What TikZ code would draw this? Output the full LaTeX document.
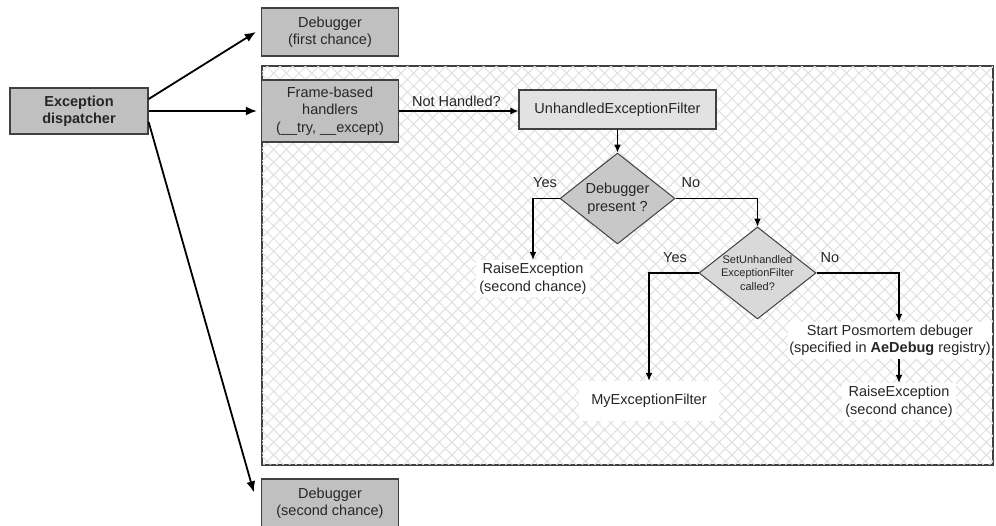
\documentclass[tikz,border=0pt]{standalone}
\usepackage{fontspec}
\setmainfont{Liberation Sans}
\usetikzlibrary{shapes.geometric,arrows.meta,patterns.meta}
\definecolor{boxgray}{HTML}{C0C0C0}
\definecolor{uefgray}{HTML}{E2E2E2}
\definecolor{diaone}{HTML}{C8C8C8}
\definecolor{diatwo}{HTML}{D9D9D9}
\definecolor{bordergray}{HTML}{404040}
\definecolor{hatchgray}{HTML}{E0E0E0}
\begin{document}
\begin{tikzpicture}[x=1pt,y=-1pt,
  every node/.style={font=\fontsize{14.5}{17.5}\selectfont, align=center, text=black!85},
  box/.style={draw=bordergray, line width=1.3pt, fill=boxgray, minimum width=137pt, inner sep=0pt},
  dia/.style={diamond, draw=bordergray, line width=1pt, inner sep=0pt},
  lbl/.style={fill=white, inner sep=3pt},
  bigarrow/.style={line width=1.8pt, -{Latex[length=11pt,width=9pt]}},
  arr/.style={line width=1.2pt, -{Latex[length=8pt,width=7pt]}},
  small/.style={font=\fontsize{11}{13.5}\selectfont}
]
\useasboundingbox (0,0) rectangle (996,525);
\clip (0,0) rectangle (996,525);

% hatched region
\node[draw=bordergray, line width=1.3pt, fill=white, minimum width=731pt, minimum height=399pt, inner sep=0pt] (region) at (627.5,265.5) {};
\fill[pattern={Hatch[angle=45,distance=9pt,line width=1pt]}, pattern color=hatchgray]
  ([xshift=0.7pt,yshift=-0.7pt]region.north west) rectangle ([xshift=-0.7pt,yshift=0.7pt]region.south east);

% boxes
\node[box, minimum width=138pt, minimum height=46pt, font=\bfseries\fontsize{14.5}{17.5}\selectfont] (disp) at (79,111) {Exception\\dispatcher};
\node[box, minimum height=48pt] (dbg1) at (330,32) {Debugger\\(first chance)};
\node[box, minimum height=62pt] (frame) at (330,111) {Frame-based\\handlers\\(\_\_try, \_\_except)};
\node[box, minimum height=48pt] (dbg2) at (330,503) {Debugger\\(second chance)};
\node[box, fill=uefgray, minimum width=197pt, minimum height=39pt] (uef) at (617.5,109.5) {UnhandledExceptionFilter};

% diamonds
\node[dia, fill=diaone, minimum width=115pt, minimum height=91pt] (d1) at (617.5,198.5) {};
\node (d1t) at (d1) {Debugger\\present ?};
\node[dia, fill=diatwo, minimum width=117pt, minimum height=92pt] (d2) at (757.5,273) {};
\node[small] (d2t) at (d2) {SetUnhandled\\ExceptionFilter\\called?};

% results
\node[lbl] (rx1) at (533,278.5) {RaiseException\\(second chance)};
\node[fill=white, minimum width=140pt, minimum height=40pt, inner sep=0pt] (myf) at (649,401) {MyExceptionFilter};
\node[fill=white, inner xsep=1pt, inner ysep=3pt] (pm) at (890,340.5) {Start Posmortem debuger\\(specified in \textbf{AeDebug} registry)};
\node[lbl] (rx2) at (899,401.5) {RaiseException\\(second chance)};

% labels
\node (yes1) at (545,183) {Yes};
\node (no1) at (691,183) {No};
\node (yes2) at (675,258) {Yes};
\node (no2) at (830,258) {No};

% dispatcher arrows
\draw[bigarrow] ([yshift=12pt]disp.east) -- ([xshift=-5pt]dbg1.west);
\draw[bigarrow] (disp.east) -- ([xshift=-4pt]frame.west);
\draw[bigarrow] ([yshift=-11pt]disp.east) -- ([xshift=-7pt,yshift=-14pt]dbg2.north west);

% flow arrows
\draw[arr] (frame.east) -- node[above, pos=0.48] (nh) {Not Handled?} (frame.east -| uef.west);
\draw[arr] (uef.south) -- (d1.north);
\draw[arr] (d1.west) -| (rx1.north);
\draw[arr] (d1.east) -| (d2.north);
\draw[arr] (d2.west) -| (myf.north);
\draw[arr] (d2.east) -| ([xshift=9pt]pm.north);
\draw[arr] ([xshift=9pt]pm.south) -- (rx2.north);
\end{tikzpicture}
\end{document}
